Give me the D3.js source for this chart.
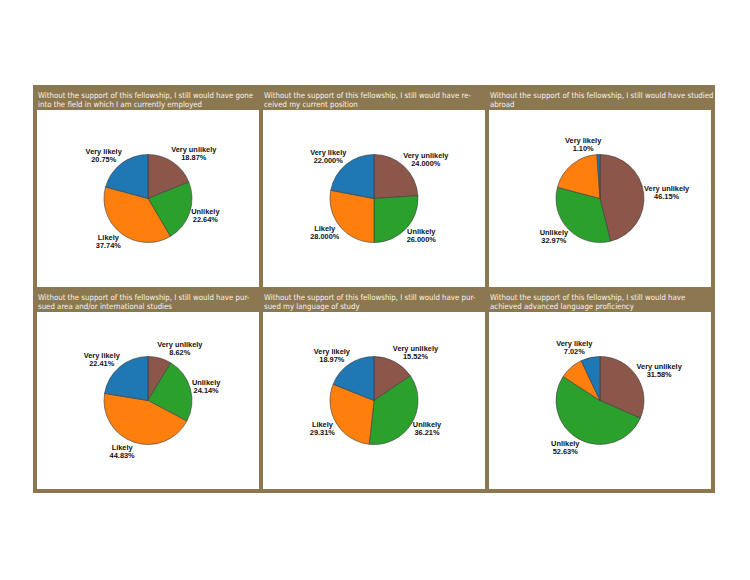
<!DOCTYPE html>
<html>
<head>
<meta charset="utf-8">
<script src="https://cdn.jsdelivr.net/npm/d3@7"></script>
<style>
  body { margin: 0; background: #fff; }
  .title { font-family: "DejaVu Sans Condensed", "DejaVu Sans", sans-serif; font-size: 7.8px; fill: #f7f3ea; }
  .lbl { font-family: "Liberation Sans", Arial, sans-serif; font-size: 7.4px; font-weight: bold; fill: #111; }
</style>
</head>
<body>
<div id="chart"></div>
<script>
// answer categories, in slice order (clockwise from 12 o'clock)
var categories = ["Very unlikely", "Unlikely", "Likely", "Very likely"];

var titles = [
  ["Without the support of this fellowship, I still would have gone", "into the field in which I am currently employed"],
  ["Without the support of this fellowship, I still would have re-", "ceived my current position"],
  ["Without the support of this fellowship, I still would have studied", "abroad"],
  ["Without the support of this fellowship, I still would have pur-", "sued area and/or international studies"],
  ["Without the support of this fellowship, I still would have pur-", "sued my language of study"],
  ["Without the support of this fellowship, I still would have", "achieved advanced language proficiency"]
];

// percentages per question, same order as categories
var q1 = [18.87, 22.64, 37.74, 20.75];
var q2 = [24.0, 26.0, 28.0, 22.0];
var q3 = [46.15, 32.97, 19.78, 1.10];
var q4 = [8.62, 24.14, 44.83, 22.41];
var q5 = [15.52, 36.21, 29.31, 18.97];
var q6 = [31.58, 52.63, 8.77, 7.02];
var allValues = [q1, q2, q3, q4, q5, q6];

// decimals shown in the labels, and labels the original leaves out
var decimals = [2, 3, 2, 2, 2, 2];
var hiddenLabels = [[], [], ["Likely"], [], [], ["Likely"]];

var svgWidth = 750, svgHeight = 580;
var frame = { x: 33, y: 85, w: 682, h: 408 };
var border = 4, titleH = 21;
var cellW = (frame.w - 4 * border) / 3;
var cellH = (frame.h - 3 * border) / 2;
var radius = 44;

var color = d3.scaleOrdinal()
  .domain(categories)
  .range(["#8c564b", "#2ca02c", "#ff7f0e", "#1f77b4"]);

var svg = d3.select("#chart")
  .append("svg")
  .attr("width", svgWidth)
  .attr("height", svgHeight);

// brown frame behind everything
svg.append("rect")
  .attr("x", frame.x)
  .attr("y", frame.y)
  .attr("width", frame.w)
  .attr("height", frame.h)
  .attr("fill", "#8b7851");

var pie = d3.pie().sort(null).value(d => d.value);
var arc = d3.arc().innerRadius(0).outerRadius(radius);

allValues.forEach(function(values, i) {
  var col = i % 3, row = Math.floor(i / 3);
  var x0 = frame.x + border + col * (cellW + border);
  var y0 = frame.y + border + row * (cellH + border);

  var cell = svg.append("g").attr("transform", `translate(${x0}, ${y0})`);

  // title lines in the brown band
  cell.selectAll("text.title")
    .data(titles[i])
    .enter()
    .append("text")
    .attr("class", "title")
    .attr("x", 1)
    .attr("y", (d, k) => 9 + k * 8.5)
    .text(d => d);

  // white plot area
  cell.append("rect")
    .attr("x", 0)
    .attr("y", titleH)
    .attr("width", cellW)
    .attr("height", cellH - titleH)
    .attr("fill", "#fff");

  var data = categories.map((c, k) => ({ cat: c, value: values[k] }));
  var cx = cellW / 2, cy = titleH + (cellH - titleH) / 2;

  var pieGroup = cell.append("g").attr("transform", `translate(${cx}, ${cy})`);

  var arcs = pie(data);

  pieGroup.selectAll("path")
    .data(arcs)
    .enter()
    .append("path")
    .attr("d", arc)
    .attr("fill", d => color(d.data.cat))
    .attr("stroke", "#3a3a3a")
    .attr("stroke-width", 0.6);

  // labels outside the pie, pushed sideways by their own width
  var fmt = d3.format("." + decimals[i] + "f");
  var labels = pieGroup.selectAll("g.label")
    .data(arcs.filter(d => hiddenLabels[i].indexOf(d.data.cat) < 0))
    .enter()
    .append("g")
    .attr("class", "label");

  labels.each(function(d) {
    var g = d3.select(this);
    var t1 = g.append("text").attr("class", "lbl").attr("text-anchor", "middle").text(d.data.cat);
    var t2 = g.append("text").attr("class", "lbl").attr("text-anchor", "middle").text(fmt(d.data.value) + "%");
    var w = Math.max(t1.node().getComputedTextLength(), t2.node().getComputedTextLength());
    var a = (d.startAngle + d.endAngle) / 2;
    var R = radius + 4;
    var s = Math.sin(a) >= 0 ? 1 : -1;
    var lx = R * Math.sin(a) + s * w * 0.42;
    var ly = -R * Math.cos(a) - Math.cos(a) * 6;
    t1.attr("x", lx).attr("y", ly - 1.5);
    t2.attr("x", lx).attr("y", ly + 6.5);
  });
});
</script>
</body>
</html>
